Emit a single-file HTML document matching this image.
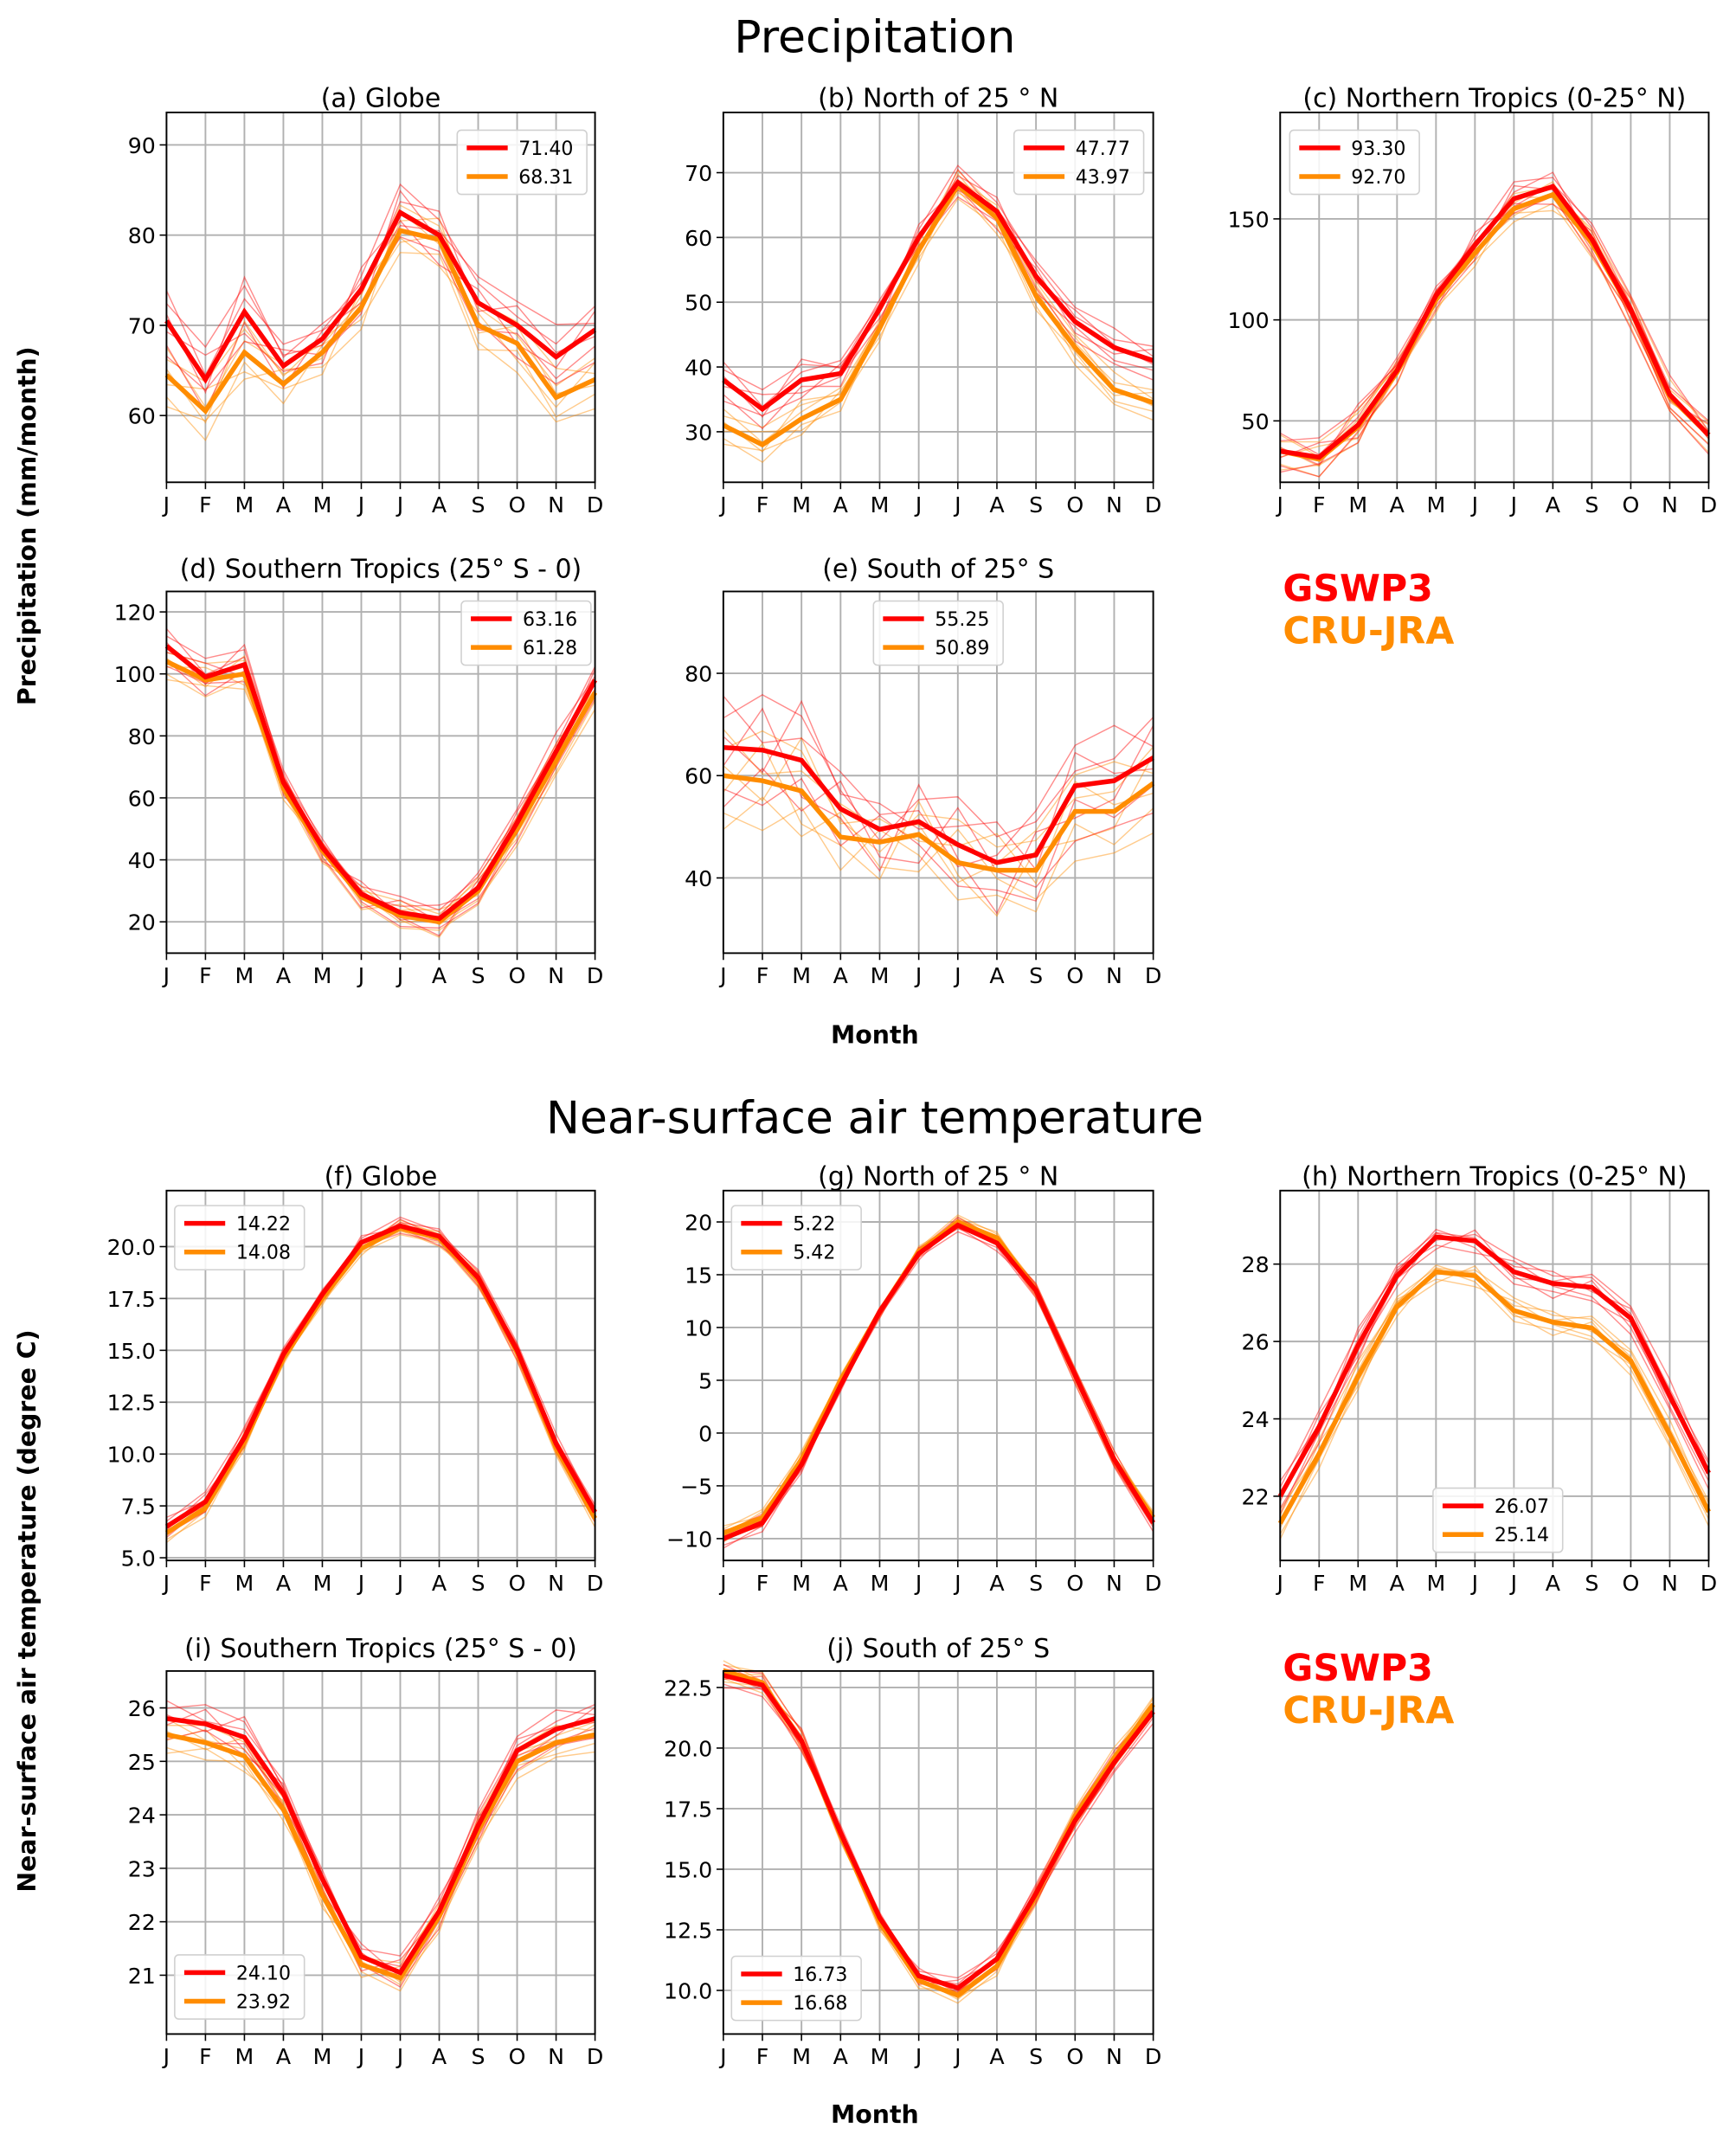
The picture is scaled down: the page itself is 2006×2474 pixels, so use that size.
<!DOCTYPE html>
<html><head><meta charset="utf-8">
<style>
html,body{margin:0;padding:0;background:#fff;}
svg{display:block;font-family:"DejaVu Sans","Liberation Sans",sans-serif;}
</style></head>
<body>
<svg id="fig" width="2006" height="2474" viewBox="0 0 1272 1568" xmlns="http://www.w3.org/2000/svg">
<text x="641" y="38" font-size="33" text-anchor="middle">Precipitation</text>
<text x="641" y="830" font-size="33" text-anchor="middle">Near-surface air temperature</text>
<text transform="translate(26,385) rotate(-90)" font-size="18" font-weight="bold" text-anchor="middle">Precipitation (mm/month)</text>
<text transform="translate(26,1180) rotate(-90)" font-size="18" font-weight="bold" text-anchor="middle">Near-surface air temperature (degree C)</text>
<text x="641" y="764" font-size="18" font-weight="bold" text-anchor="middle">Month</text>
<text x="641" y="1555" font-size="18" font-weight="bold" text-anchor="middle">Month</text>
<text x="940" y="440" font-size="27" font-weight="bold" fill="#ff0000">GSWP3</text>
<text x="940" y="471" font-size="27" font-weight="bold" fill="#ff8c00">CRU-JRA</text>
<text x="940" y="1231" font-size="27" font-weight="bold" fill="#ff0000">GSWP3</text>
<text x="940" y="1262" font-size="27" font-weight="bold" fill="#ff8c00">CRU-JRA</text>
</svg>
<script>
const months = ["J","F","M","A","M","J","J","A","S","O","N","D"];
const panelTitles = ["(a) Globe","(b) North of 25 ° N","(c) Northern Tropics (0-25° N)","(d) Southern Tropics (25° S - 0)","(e) South of 25° S","(f) Globe","(g) North of 25 ° N","(h) Northern Tropics (0-25° N)","(i) Southern Tropics (25° S - 0)","(j) South of 25° S"];
const gswpMeans = [
 [70.5,64,71.5,65.5,68.5,74,82.5,80,72.5,70,66.5,69.5],
 [38,33.5,38,39,49,60,68.5,64,54,47,43,41],
 [35,32,48,75,112,137,160,166,140,105,63,43],
 [109,99,103,65,44,29,23,21,31,52,75,98],
 [65.5,65,63,53.5,49.5,51,46.5,43,44.5,58,59,63.5],
 [6.5,7.7,10.8,14.8,17.7,20.2,21,20.5,18.5,15,10.5,7.2],
 [-10,-8.5,-3,4.5,11.5,17,19.7,18,13.5,5.5,-2.5,-8.5],
 [22,23.8,25.9,27.7,28.7,28.6,27.8,27.5,27.4,26.6,24.6,22.6],
 [25.8,25.7,25.45,24.4,22.8,21.35,21.05,22.2,23.8,25.2,25.6,25.8],
 [23,22.6,20.3,16.5,13,10.6,10.1,11.3,14,17,19.4,21.5]];
const cruMeans = [
 [64.5,60.5,67,63.5,67,72,80.5,79.5,70,68,62,64],
 [31,28,32,35,46,58,68,63,51,43,36.5,34.5],
 [35,31,47,74,110,133,155,162,138,105,62,43],
 [104,98,100,63,43,28,22,20,30,50,72,94],
 [60,59,57,48,47,48.5,43,41.5,41.5,53,53,58.5],
 [6.2,7.4,10.6,14.6,17.5,19.9,20.9,20.4,18.4,14.9,10.3,6.9],
 [-9.5,-8,-2.5,5,11.5,17.2,20,18.5,13.5,5.5,-2.5,-8],
 [21.3,23.1,25.1,26.9,27.8,27.7,26.8,26.5,26.35,25.5,23.6,21.6],
 [25.5,25.35,25.1,24.1,22.5,21.2,20.95,22.1,23.7,25.0,25.35,25.5],
 [23.2,22.7,20.3,16.4,12.8,10.4,9.8,11,13.9,17.2,19.6,21.8]];
const gswpLegend = ["71.40","47.77","93.30","63.16","55.25","14.22","5.22","26.07","24.10","16.73"];
const cruLegend = ["68.31","43.97","92.70","61.28","50.89","14.08","5.42","25.14","23.92","16.68"];
const memberSpread = [3,2.5,8,5,9,0.4,0.7,0.35,0.3,0.4];
const memberDev = [
 [0.8,1.5,1.2,0.5,-0.3,0.6,1.3,0.7,0.9,0.4,0.6,1.1],
 [-0.9,-1.2,-0.4,-0.8,0.3,-0.5,-0.9,-0.6,-1.0,-0.3,-0.8,-0.6],
 [0.3,-0.6,1.6,0.4,0.7,-0.2,0.5,1.1,-0.4,0.9,0.2,-0.3],
 [-0.4,0.9,-0.8,-0.2,-0.9,0.8,-0.3,-1.1,0.5,-0.7,-0.4,0.7],
 [1.4,0.2,0.6,1.0,0.4,0.3,-0.6,0.2,1.2,1.1,1.5,0.3],
 [-1.3,-0.4,-1.1,0.6,-0.6,-0.9,0.8,-0.2,-0.7,-1.2,-1.0,-1.2]];
const yTicks = [
 [60,70,80,90],[30,40,50,60,70],[50,100,150],[20,40,60,80,100,120],[40,60,80],
 [5,7.5,10,12.5,15,17.5,20],[-10,-5,0,5,10,15,20],[22,24,26,28],[21,22,23,24,25,26],[10,12.5,15,17.5,20,22.5]];
const yTickLabels = [
 ["60","70","80","90"],["30","40","50","60","70"],["50","100","150"],["20","40","60","80","100","120"],["40","60","80"],
 ["5.0","7.5","10.0","12.5","15.0","17.5","20.0"],["−10","−5","0","5","10","15","20"],["22","24","26","28"],["21","22","23","24","25","26"],["10.0","12.5","15.0","17.5","20.0","22.5"]];
const yLims = [[52.6,93.6],[22.2,79.3],[19.6,202.7],[9.9,126.6],[25.3,96],[4.87,22.7],[-12.07,22.97],[20.34,29.9],[19.9,26.69],[8.2,23.18]];
const panelBoxes = [[122,82,314,271],[530,82,315,271],[938,82,314,271],[122,433,314,265],[530,433,315,265],[122,872,314,271],[530,872,315,271],[938,872,314,271],[122,1224,314,266],[530,1224,315,266]];
const titleOffsets = [4,4,4,10,10,4,4,4,10,10];
const legendPos = [[335,95],[743,95],[945,95],[338,440],[640,440],[128,883],[536,883],[1050,1090],[128,1432],[536,1433]];

const NS="http://www.w3.org/2000/svg";
const svg=document.getElementById('fig');
function mk(tag,attrs,parent){const e=document.createElementNS(NS,tag);for(const k in attrs)e.setAttribute(k,attrs[k]);(parent||svg).appendChild(e);return e;}

panelTitles.forEach((title,p)=>{
 const [bx,by,bw,bh]=panelBoxes[p];
 const [y0,y1]=yLims[p];
 const xs=i=>bx+bw*i/11;
 const ys=v=>by+bh*(1-(v-y0)/(y1-y0));
 const g=mk('g',{});
 
 
 months.forEach((m,i)=>{
  const l=mk('line',{x1:xs(i),x2:xs(i),y1:by,y2:by+bh,stroke:'#b0b0b0','stroke-width':1.2},g);
  
  
  mk('line',{x1:xs(i),x2:xs(i),y1:by+bh,y2:by+bh+5,stroke:'#000','stroke-width':1},g);
  const t=mk('text',{x:xs(i),y:by+bh+22,'font-size':16,'text-anchor':'middle'},g);
  t.textContent=m;
  
  
 });
 yTicks[p].forEach((v,k)=>{
  const l=mk('line',{x1:bx,x2:bx+bw,y1:ys(v),y2:ys(v),stroke:'#b0b0b0','stroke-width':1.2},g);
  
  
  mk('line',{x1:bx-5,x2:bx,y1:ys(v),y2:ys(v),stroke:'#000','stroke-width':1},g);
  const t=mk('text',{x:bx-8,y:ys(v)+6,'font-size':16,'text-anchor':'end'},g);
  t.textContent=yTickLabels[p][k];
  
  
 });
 const series=[[cruMeans[p],'#ff8c00'],[gswpMeans[p],'#ff0000']];
 series.forEach(([mean,col],si)=>{
  memberDev.forEach((dev,d)=>{
   const pts=mean.map((v,i)=>xs(i)+','+ys(v+dev[i]*memberSpread[p]*(si?1:0.9)*(d%2?1:0.8))).join(' ');
   const pl=mk('polyline',{points:pts,fill:'none',stroke:col,'stroke-width':0.9,'stroke-opacity':0.45},g);
   
   
  });
 });
 series.forEach(([mean,col],si)=>{
  const pts=mean.map((v,i)=>xs(i)+','+ys(v)).join(' ');
  const pl=mk('polyline',{points:pts,fill:'none',stroke:col,'stroke-width':3.5},g);
  
  
 });
 const fr=mk('rect',{x:bx,y:by,width:bw,height:bh,fill:'none',stroke:'#000','stroke-width':1.2},g);
 
 
 const tt=mk('text',{x:bx+bw/2,y:by-titleOffsets[p],'font-size':19,'text-anchor':'middle'},g);
 tt.textContent=title;
 
 
 const [lx,ly]=legendPos[p];
 const lg=mk('g',{},g);
 
 
 mk('rect',{x:lx,y:ly,width:95,height:47,rx:3,fill:'#fff','fill-opacity':0.85,stroke:'#d0d0d0'},lg);
 [[gswpLegend[p],'#ff0000'],[cruLegend[p],'#ff8c00']].forEach(([txt,col],k)=>{
  const yy=ly+13+k*21;
  mk('line',{x1:lx+7,x2:lx+37,y1:yy,y2:yy,stroke:col,'stroke-width':3.5},lg);
  const t=mk('text',{x:lx+45,y:yy+5,'font-size':14},lg);
  t.textContent=txt;
  
  
 });
});
</script>
</body></html>
